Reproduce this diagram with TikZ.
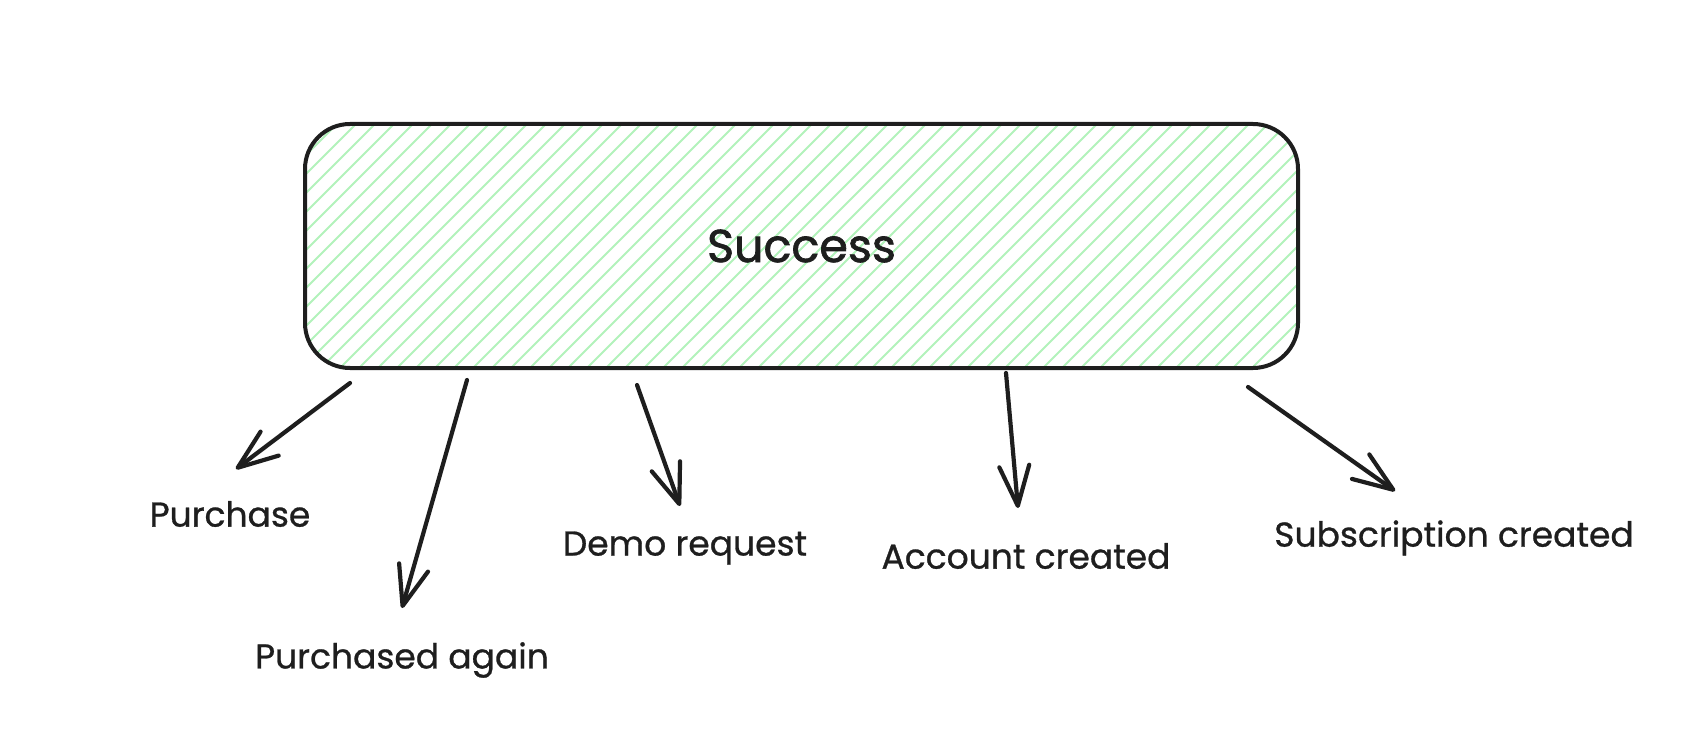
\documentclass[tikz,border=0pt]{standalone}
\usepackage{fontspec}
\setmainfont{Poppins}
\usepackage{tikz}
\usepackage{xcolor}
\usetikzlibrary{arrows.meta,calc,positioning}
\definecolor{inkblack}{RGB}{30,30,30}
\definecolor{hatchgreen}{RGB}{178,242,187}

\begin{document}
\begin{tikzpicture}[x=1pt,y=-1pt,>=Stealth]
  \useasboundingbox (0,0) rectangle (1688,730);
  \tikzset{
    successbox/.style={draw=inkblack,line width=4pt,rounded corners=45pt,
      minimum width=993pt,minimum height=244pt,text=inkblack,
      font=\fontsize{46}{52}\selectfont\addfontfeature{FakeBold=1.5},
      path picture={
        \foreach \k in {0,...,70}
          \draw[hatchgreen,line width=2pt]
            ($(path picture bounding box.north west)+({19*\k},-6)$) -- ++(-260,260);
      }},
    lbl/.style={text=inkblack,font=\fontsize{34.5}{40}\selectfont\addfontfeature{FakeBold=0.8},
      inner sep=0pt},
    arr/.style={inkblack,line width=4.2pt,line cap=round,
      -{Straight Barb[length=40pt,width=30pt,line cap=round,line join=round]}}
  }
  \node[successbox] (success) at (801.5,246) {Success};
  % labels under the box
  \node[lbl] (purchase) at (230,514) {Purchase};
  \node[lbl] (again) at (402,660) {Purchased again};
  \node[lbl] (demo) at (685,548) {Demo request};
  \node[lbl] (account) at (1026,556) {Account created};
  \node[lbl] (subscr) at (1454,538) {Subscription created};
  % arrow ends
  \coordinate (s1) at (350,383);  \coordinate (t1) at (236,469);
  \coordinate (s2) at (467,380);  \coordinate (t2) at (402,608);
  \coordinate (s3) at (637,385);  \coordinate (t3) at (680,506);
  \coordinate (s4) at (1006,373); \coordinate (t4) at (1018,508);
  \coordinate (s5) at (1248,387); \coordinate (t5) at (1395,491);
  \foreach \i in {1,...,5}
    \draw[arr] (s\i) -- (t\i);
\end{tikzpicture}
\end{document}
